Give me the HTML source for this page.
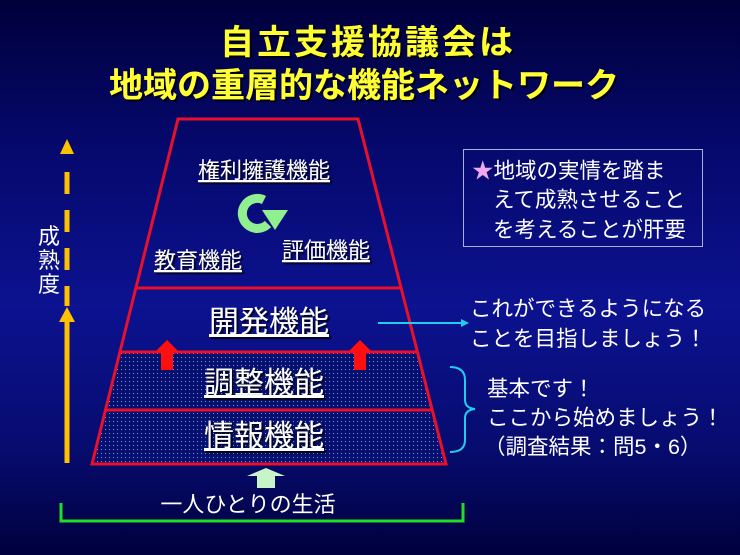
<!DOCTYPE html>
<html><head><meta charset="utf-8"><style>
html,body{margin:0;padding:0;}
body{width:740px;height:555px;overflow:hidden;background:linear-gradient(180deg,#00003a 0%,#05086a 25%,#0c1290 55%,#070c70 80%,#00003e 100%);}
svg{display:block;}
text{font-family:"Liberation Sans","Noto Sans CJK JP",sans-serif;}
</style></head><body>
<svg width="740" height="555" viewBox="0 0 740 555" xmlns="http://www.w3.org/2000/svg">
<defs>
<pattern id="dots" width="4" height="4" patternUnits="userSpaceOnUse">
<rect width="4" height="4" fill="#061070"/>
<rect x="1" y="1" width="1" height="1" fill="#8a90c8"/>
</pattern>
<filter id="sh"><feDropShadow dx="2" dy="2" stdDeviation="0.5" flood-color="#000" flood-opacity="0.8"/></filter>
</defs>
<g filter="url(#sh)" fill="#ffff33" font-size="34" font-weight="bold" text-anchor="middle">
<text x="368" y="54" letter-spacing="3">自立支援協議会は</text>
<text x="364" y="97">地域の重層的な機能ネットワーク</text>
</g>
<polygon points="120,352 417,352 446,464 92,464" fill="url(#dots)"/>
<polygon points="178,119 358,119 446,464 92,464" fill="none" stroke="#e8102a" stroke-width="3"/>
<line x1="136" y1="288" x2="401" y2="288" stroke="#e8102a" stroke-width="3"/>
<line x1="120" y1="352" x2="417" y2="352" stroke="#e8102a" stroke-width="3"/>
<line x1="105" y1="410" x2="432" y2="410" stroke="#e8102a" stroke-width="3"/>
<polygon points="167,340 179,352 173,352 173,370 161,370 161,352 155,352" fill="#ff1010"/>
<polygon points="360,340 372,352 366,352 366,370 354,370 354,352 348,352" fill="#ff1010"/>
<polygon points="266,468 285,476 275,476 275,488 257,488 257,476 247,476" fill="#c8f5c8"/>
<path d="M268,224 A15,15 0 1 1 264,200" fill="none" stroke="#90f090" stroke-width="9"/>
<polygon points="262,210 288,210 275,230" fill="#90f090"/>
<g fill="#fff" filter="url(#sh)">
<text x="264" y="178" font-size="22" text-anchor="middle" text-decoration="underline">権利擁護機能</text>
<text x="198" y="268" font-size="22" text-anchor="middle" text-decoration="underline">教育機能</text>
<text x="326" y="258" font-size="22" text-anchor="middle" text-decoration="underline">評価機能</text>
<text x="269" y="332" font-size="30" text-anchor="middle" text-decoration="underline">開発機能</text>
<text x="264" y="393" font-size="30" text-anchor="middle" text-decoration="underline">調整機能</text>
<text x="264" y="446" font-size="30" text-anchor="middle" text-decoration="underline">情報機能</text>
</g>
<text x="248" y="512" font-size="22" fill="#fff" text-anchor="middle">一人ひとりの生活</text>
<polyline points="61,503 61,521 463,521 463,503" fill="none" stroke="#22dd22" stroke-width="3"/>
<polygon points="67,139 74,154 60,154" fill="#ffc000"/>
<g stroke="#ffc000" stroke-width="5">
<line x1="67" y1="172" x2="67" y2="194"/>
<line x1="67" y1="210" x2="67" y2="232"/>
<line x1="67" y1="248" x2="67" y2="270"/>
<line x1="67" y1="286" x2="67" y2="306"/>
<line x1="67" y1="318" x2="67" y2="463"/>
</g>
<polygon points="67,307 75,322 59,322" fill="#ffc000"/>
<g fill="#fff" font-size="22" text-anchor="middle">
<text x="49" y="244">成</text>
<text x="49" y="268">熟</text>
<text x="49" y="292">度</text>
</g>
<rect x="463.5" y="149.5" width="239" height="97" fill="none" stroke="#a8b0e0" stroke-width="1"/>
<g fill="#fff" font-size="21.5">
<text x="472" y="178"><tspan fill="#f0a8f0">★</tspan>地域の実情を踏ま</text>
<text x="493" y="207">えて成熟させること</text>
<text x="493" y="237">を考えることが肝要</text>
<text x="470" y="316">これができるようになる</text>
<text x="470" y="346">ことを目指しましょう！</text>
<text x="487" y="396">基本です！</text>
<text x="487" y="425">ここから始めましょう！</text>
<text x="484" y="454">（調査結果：問5・6）</text>
</g>
<line x1="378" y1="323" x2="463" y2="323" stroke="#22ccee" stroke-width="2"/>
<polygon points="469,323 461,319 461,327" fill="#22ccee"/>
<path d="M450,367 Q465,367 465,380 L465,400 Q465,408 475,409 Q465,410 465,418 L465,440 Q465,452 450,452" fill="none" stroke="#22ccee" stroke-width="2"/>
</svg>
</body></html>
